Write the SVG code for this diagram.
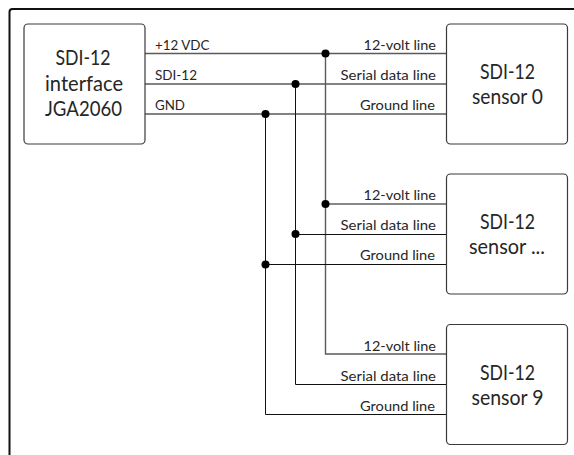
<svg xmlns="http://www.w3.org/2000/svg" width="574" height="455" viewBox="0 0 574 455">
<style>
text{font-family:"Lato","Carlito","Liberation Sans",sans-serif;fill:#262626}
.n rect{fill:#fff;stroke:#3a3a3a;stroke-width:1.2}
.n text{font-size:20.5px}
.l{font-size:14px}
.w{fill:none;stroke-width:1}
.g{stroke:#5a5a5a;stroke-width:1.4}
.k{stroke:#111}
.d{fill:#000}
</style>
<rect width="574" height="455" fill="#fff"/>
<path id="frame" d="M9.500 455V12Q9.500 9 12.500 9H574" fill="none" stroke="#111" stroke-width="2"/>
<g id="connectors">
<path class="w g" d="M145 53.500H446.500M145 84H446.500M145 114H446.500"/>
<path class="w g" d="M325.500 53.500V354H446.500"/>
<path class="w k" d="M295.500 84V384.500H446.500M265.500 114V414.500H446.500"/>
<path class="w k" d="M325.500 204H446.500M295.500 234.500H446.500M265.500 264.500H446.500"/>
<circle class="d" cx="325.500" cy="53.500" r="4"/>
<circle class="d" cx="295.500" cy="84" r="4"/>
<circle class="d" cx="265.500" cy="114" r="4"/>
<circle class="d" cx="325.500" cy="204" r="4"/>
<circle class="d" cx="295.500" cy="234" r="4"/>
<circle class="d" cx="265.500" cy="264.500" r="4"/>
</g>
<g id="labels" class="l">
<text x="155" y="49.500" textLength="54.500" lengthAdjust="spacingAndGlyphs">+12 VDC</text>
<text x="155" y="79.500" textLength="42" lengthAdjust="spacingAndGlyphs">SDI-12</text>
<text x="155" y="109.500" textLength="30" lengthAdjust="spacingAndGlyphs">GND</text>
<text x="363.500" y="49.500" textLength="72.500" lengthAdjust="spacingAndGlyphs">12-volt line</text>
<text x="340.500" y="79.500" textLength="95.500" lengthAdjust="spacingAndGlyphs">Serial data line</text>
<text x="360" y="109.500" textLength="75" lengthAdjust="spacingAndGlyphs">Ground line</text>
<text x="363.500" y="200" textLength="72.500" lengthAdjust="spacingAndGlyphs">12-volt line</text>
<text x="340.500" y="230" textLength="95.500" lengthAdjust="spacingAndGlyphs">Serial data line</text>
<text x="360" y="260" textLength="75" lengthAdjust="spacingAndGlyphs">Ground line</text>
<text x="363.500" y="351" textLength="72.500" lengthAdjust="spacingAndGlyphs">12-volt line</text>
<text x="340.500" y="381" textLength="95.500" lengthAdjust="spacingAndGlyphs">Serial data line</text>
<text x="360" y="411" textLength="75" lengthAdjust="spacingAndGlyphs">Ground line</text>
</g>
<g id="interface" class="n">
<rect x="24" y="24" width="121" height="120" rx="4"/>
<text x="55.500" y="65" textLength="55" lengthAdjust="spacingAndGlyphs">SDI-12</text>
<text x="45" y="90.500" textLength="78" lengthAdjust="spacingAndGlyphs">interface</text>
<text x="45" y="115.500" textLength="77" lengthAdjust="spacingAndGlyphs">JGA2060</text>
</g>
<g id="sensor0" class="n">
<rect x="446.500" y="24" width="121" height="120" rx="4"/>
<text x="480" y="78.500" textLength="55" lengthAdjust="spacingAndGlyphs">SDI-12</text>
<text x="472" y="103.500" textLength="71" lengthAdjust="spacingAndGlyphs">sensor 0</text>
</g>
<g id="sensorN" class="n">
<rect x="446.500" y="174" width="121" height="120" rx="4"/>
<text x="480" y="228.500" textLength="55" lengthAdjust="spacingAndGlyphs">SDI-12</text>
<text x="469" y="253.500" textLength="76" lengthAdjust="spacingAndGlyphs">sensor ...</text>
</g>
<g id="sensor9" class="n">
<rect x="446.500" y="324.500" width="121" height="120" rx="4"/>
<text x="480" y="379.500" textLength="55" lengthAdjust="spacingAndGlyphs">SDI-12</text>
<text x="471.500" y="404.500" textLength="72" lengthAdjust="spacingAndGlyphs">sensor 9</text>
</g>
</svg>
